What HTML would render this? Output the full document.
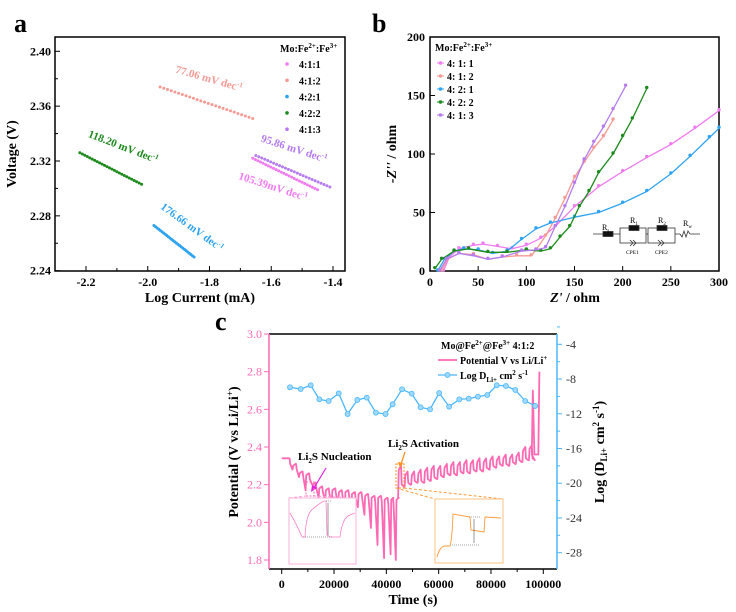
<!DOCTYPE html>
<html><head><meta charset="utf-8">
<style>
html,body{margin:0;padding:0;background:#fff;}
svg{display:block;font-family:"Liberation Serif",serif;font-weight:bold;}
</style></head>
<body>
<svg id="fig" width="736" height="612" viewBox="0 0 736 612" xmlns="http://www.w3.org/2000/svg">
<g id="pa"></g>
<g id="pb"></g>
<g id="pc"></g>
</svg>
<script>
// ---------- Panel a data ----------
const aSeries = ["4:1:1","4:1:2","4:2:1","4:2:2","4:1:3"];
const aColors = ["#f07cf0","#f59a94","#2ea3f2","#1e8a1e","#b57cf0"];
const aXStart = [-1.66,-1.96,-1.98,-2.22,-1.65];
const aXEnd   = [-1.45,-1.66,-1.85,-2.02,-1.41];
const aYStart = [2.322,2.374,2.273,2.326,2.324];
const aYEnd   = [2.299,2.351,2.250,2.303,2.301];
const aSlopes = ["105.39mV dec","77.06 mV dec","176.66 mV dec","118.20 mV dec","95.86 mV dec"];
const aXTicks = [-2.2,-2.0,-1.8,-1.6,-1.4];
const aYTicks = [2.24,2.28,2.32,2.36,2.40];
// ---------- Panel b data ----------
const bSeries = ["4: 1: 1","4: 1: 2","4: 2: 1","4: 2: 2","4: 1: 3"];
const bColors = ["#f07cf0","#f59a94","#2ea3f2","#1e8a1e","#b57cf0"];
const bX = [
 [14,20,30,45,55,70,85,100,115,130,150,175,200,225,250,275,300],
 [12,18,30,45,60,75,90,105,110,120,130,140,150,160,170,180,190],
 [8,15,25,35,50,65,80,95,110,125,150,175,200,225,250,270,290,300],
 [5,12,25,40,60,80,100,115,125,135,145,155,165,175,190,200,210,225],
 [10,17,30,45,60,75,95,110,120,130,140,150,160,170,180,190,203]
];
const bY = [
 [0,12,19,22,23,21,19,22,28,38,55,72,85,97,108,122,137],
 [0,10,15,14,10,12,13,13,18,30,45,62,80,93,105,115,129],
 [0,10,17,19,18,15,17,27,36,41,46,50,58,68,83,98,114,122],
 [2,10,17,19,16,16,18,17,19,29,38,55,68,84,100,115,130,156],
 [0,10,15,13,10,12,17,18,20,38,55,75,95,110,123,138,158]
];
const bXTicks = [0,50,100,150,200,250,300];
const bYTicks = [0,50,100,150,200];
// ---------- Panel c data ----------
const cDisT   = [3000,5500,8000,10500,13000,15500,18000,20500,23000,25500,28000,30500,33000,35500,38000,40500,42500];
const cDisTop = [2.34,2.31,2.27,2.26,2.21,2.19,2.18,2.18,2.17,2.17,2.16,2.16,2.15,2.14,2.14,2.13,2.13];
const cDisBot = [2.28,2.24,2.17,2.20,2.13,2.11,2.10,2.10,2.09,2.09,2.08,2.04,1.97,1.88,1.81,1.83,1.80];
const cChT    = [44500,47000,49500,52000,54500,57000,59500,62000,64500,67000,69500,72000,74500,77000,79500,82000,84500,87000,89500,92000,94500];
const cChPeak = [2.30,2.27,2.27,2.28,2.29,2.30,2.30,2.31,2.32,2.32,2.33,2.33,2.34,2.34,2.35,2.35,2.36,2.36,2.37,2.40,2.41];
const cChBase = [2.13,2.19,2.20,2.21,2.21,2.22,2.23,2.24,2.25,2.25,2.26,2.26,2.27,2.27,2.28,2.29,2.30,2.30,2.31,2.32,2.33];
const cEndT   = [96000,97000,98500];
const cEndV   = [2.70,2.36,2.80];
const cDT = [3170,7260,11080,14400,17950,21800,25200,28900,32500,36000,39700,42400,46000,49700,53100,56700,60200,64000,67900,71500,75000,78600,82200,85700,89300,93100,96900];
const cDV = [-8.95,-9.15,-8.72,-10.34,-10.53,-9.65,-12.03,-10.41,-10.14,-11.87,-12.03,-10.91,-9.18,-9.68,-11.26,-11.49,-9.61,-11.18,-10.34,-10.26,-10.03,-9.84,-8.72,-8.8,-9.26,-10.53,-11.1];
const cXTicks = [0,20000,40000,60000,80000,100000];
const cYTicks = [1.8,2.0,2.2,2.4,2.6,2.8,3.0];
const cY2Ticks = [-28,-24,-20,-16,-12,-8,-4];

const NS="http://www.w3.org/2000/svg";
function mk(parent,tag,attrs,text){const e=document.createElementNS(NS,tag);for(const k in attrs)e.setAttribute(k,attrs[k]);if(text!==undefined)e.textContent=text;parent.appendChild(e);return e;}
function lin(d0,d1,r0,r1){return v=>r0+(v-d0)/(d1-d0)*(r1-r0);}

// ================= Panel A =================
(function(){
const g=document.getElementById('pa');
const X=lin(-2.2,-1.4,86,333), Y=lin(2.40,2.24,51.3,270.7);
let t=mk(g,'text',{x:14,y:32,'font-size':26});t.textContent='a';


let r=mk(g,'rect',{x:55,y:37,width:290,height:234,fill:'none',stroke:'#000','stroke-width':1.5});


aXTicks.forEach(v=>{const x=X(v);mk(g,'line',{x1:x,x2:x,y1:271,y2:266,stroke:'#000'});
 const l=mk(g,'text',{x:x,y:286,'font-size':12,'text-anchor':'middle'},v.toFixed(1));
 
 });
aXTicks.slice(0,-1).forEach(v=>{const x=X(v+0.1);mk(g,'line',{x1:x,x2:x,y1:271,y2:268,stroke:'#000'});});
aYTicks.forEach(v=>{const y=Y(v);mk(g,'line',{x1:55,x2:60,y1:y,y2:y,stroke:'#000'});
 const l=mk(g,'text',{x:51,y:y+4,'font-size':12,'text-anchor':'end'},v.toFixed(2));
 
 });
aYTicks.slice(0,-1).forEach(v=>{const y=Y(v+0.02);mk(g,'line',{x1:55,x2:58,y1:y,y2:y,stroke:'#000'});});
let xl=mk(g,'text',{x:200,y:302,'font-size':14,'text-anchor':'middle'},'Log Current (mA)');


let yl=mk(g,'text',{x:0,y:0,'font-size':14,'text-anchor':'middle',transform:'translate(16,154) rotate(-90)'},'Voltage (V)');


const labelPos=[[272,190,18],[208,82,16],[190,230,36],[122,150,21],[293,152,18]];
aSeries.forEach((s,i)=>{
 const sg=mk(g,'g',{});
 
 
 const n=26;
 for(let k=0;k<n;k++){const f=k/(n-1);
  const xv=aXStart[i]+(aXEnd[i]-aXStart[i])*f, yv=aYStart[i]+(aYEnd[i]-aYStart[i])*f;
  const c=mk(sg,'circle',{cx:X(xv),cy:Y(yv),r:1.5,fill:aColors[i]});
  
  }
 const p=labelPos[i];
 const lt=mk(g,'text',{x:p[0],y:p[1],'font-size':11,fill:aColors[i],'text-anchor':'middle',transform:`rotate(${p[2]} ${p[0]} ${p[1]})`});
 lt.textContent=aSlopes[i];
 mk(lt,'tspan',{dy:-4,'font-size':7},'-1');
 
 
});
const lg=mk(g,'g',{});


const tt=mk(lg,'text',{x:280,y:52,'font-size':10});tt.textContent='Mo:Fe';mk(tt,'tspan',{dy:-4,'font-size':7},'2+');mk(tt,'tspan',{dy:4},':Fe');mk(tt,'tspan',{dy:-4,'font-size':7},'3+');
aSeries.forEach((s,i)=>{const y=64+i*16.3;
 const e=mk(lg,'g',{});
 
 
 mk(e,'circle',{cx:287,cy:y,r:1.8,fill:aColors[i]});
 mk(e,'text',{x:299,y:y+4,'font-size':10},s);});
})();

// ================= Panel B =================
(function(){
const g=document.getElementById('pb');
const X=lin(0,300,430,719), Y=lin(0,200,271,37);
let t=mk(g,'text',{x:372,y:32,'font-size':26},'b');


let r=mk(g,'rect',{x:430,y:37,width:289,height:234,fill:'none',stroke:'#000','stroke-width':1.5});


bXTicks.forEach(v=>{const x=X(v);mk(g,'line',{x1:x,x2:x,y1:271,y2:266,stroke:'#000'});
 const l=mk(g,'text',{x:x,y:286,'font-size':12,'text-anchor':'middle'},String(v));
 
 });
bYTicks.forEach(v=>{const y=Y(v);mk(g,'line',{x1:430,x2:435,y1:y,y2:y,stroke:'#000'});
 const l=mk(g,'text',{x:425,y:y+4,'font-size':12,'text-anchor':'end'},String(v));
 
 });
let xl=mk(g,'text',{x:575,y:302,'font-size':14,'text-anchor':'middle'});
mk(xl,'tspan',{'font-style':'italic'},"Z'");mk(xl,'tspan',{},' / ohm');


let yl=mk(g,'text',{x:0,y:0,'font-size':14,'text-anchor':'middle',transform:'translate(396,154) rotate(-90)'});
mk(yl,'tspan',{'font-style':'italic'},"-Z''");mk(yl,'tspan',{},' / ohm');


bSeries.forEach((s,i)=>{
 const sg=mk(g,'g',{});
 
 
 const pts=bX[i].map((x,k)=>X(x).toFixed(1)+','+Y(bY[i][k]).toFixed(1)).join(' ');
 const pl=mk(sg,'polyline',{points:pts,fill:'none',stroke:bColors[i],'stroke-width':1.3,'stroke-linejoin':'round'});
 
 
 bX[i].forEach((x,k)=>{const c=mk(sg,'circle',{cx:X(x),cy:Y(bY[i][k])-1,r:1.7,fill:bColors[i]});
  
  });
});
const lg=mk(g,'g',{});


const tt=mk(lg,'text',{x:435,y:51,'font-size':10});tt.textContent='Mo:Fe';mk(tt,'tspan',{dy:-4,'font-size':7},'2+');mk(tt,'tspan',{dy:4},':Fe');mk(tt,'tspan',{dy:-4,'font-size':7},'3+');
bSeries.forEach((s,i)=>{const y=63+i*13;
 const e=mk(lg,'g',{});
 
 
 mk(e,'line',{x1:437,x2:444,y1:y,y2:y,stroke:bColors[i],'stroke-width':1});
 mk(e,'circle',{cx:440.5,cy:y,r:1.8,fill:bColors[i]});
 mk(e,'text',{x:447,y:y+4,'font-size':10},s);});
// circuit
const cg=mk(g,'g',{stroke:'#333','stroke-width':0.8,fill:'none'});


mk(cg,'path',{d:'M593 234 H620 M646 234 H648 M675 234 H680 M690 234 H700'});
mk(cg,'rect',{x:603,y:231.5,width:10,height:5,fill:'#111'});
mk(cg,'rect',{x:620,y:228,width:26,height:15});
mk(cg,'rect',{x:629,y:225.5,width:10,height:5,fill:'#111'});
mk(cg,'rect',{x:648,y:228,width:27,height:15});
mk(cg,'rect',{x:657,y:225.5,width:10,height:5,fill:'#111'});
mk(cg,'path',{d:'M630 240 l3 3 l-3 3 M633 240 l3 3 l-3 3 M658 240 l3 3 l-3 3 M661 240 l3 3 l-3 3'});
mk(cg,'path',{d:'M680 234 l2 3 l2 -6 l2 6 l2 -6 l2 3'});
const lbl=[["R",602,230,"s"],["R",630,223,"1"],["R",658,223,"2"],["R",683,226,"w"]];
lbl.forEach(l=>{const tx=mk(g,'text',{x:l[1],y:l[2],'font-size':8,'font-weight':'normal'},l[0]);mk(tx,'tspan',{dy:2,'font-size':5},l[3]);});
mk(g,'text',{x:626,y:254,'font-size':5.5,'font-weight':'normal'},'CPE1');
mk(g,'text',{x:655,y:254,'font-size':5.5,'font-weight':'normal'},'CPE2');
})();

// ================= Panel C =================
(function(){
const g=document.getElementById('pc');
const X=lin(0,100000,281.7,543.3), Y=lin(1.8,3.0,560,334), Y2=lin(-4,-28,344.3,552.7);
const pink='#ff69b4', blue='#4db8ff';
let t=mk(g,'text',{x:215,y:330,'font-size':26},'c');


mk(g,'line',{x1:269,x2:557,y1:334,y2:334,stroke:'#000','stroke-width':1.5});
mk(g,'line',{x1:269,x2:557,y1:569,y2:569,stroke:'#000','stroke-width':1.5});
mk(g,'line',{x1:269,x2:269,y1:334,y2:569,stroke:pink,'stroke-width':1.5});
mk(g,'line',{x1:557,x2:557,y1:334,y2:569,stroke:blue,'stroke-width':1.5});
cXTicks.forEach(v=>{const x=X(v);mk(g,'line',{x1:x,x2:x,y1:569,y2:574,stroke:'#000'});
 const l=mk(g,'text',{x:x,y:588,'font-size':12,'text-anchor':'middle'},String(v));
 
 });
cXTicks.slice(0,-1).forEach(v=>{const x=X(v+10000);mk(g,'line',{x1:x,x2:x,y1:569,y2:572,stroke:'#000'});});
cYTicks.forEach(v=>{const y=Y(v);mk(g,'line',{x1:269,x2:264,y1:y,y2:y,stroke:pink});
 const l=mk(g,'text',{x:262,y:y+4,'font-size':12,'text-anchor':'end',fill:pink,'font-weight':'normal'},v.toFixed(1));
 
 });
cY2Ticks.forEach(v=>{const y=Y2(v);mk(g,'line',{x1:557,x2:562,y1:y,y2:y,stroke:blue});
 mk(g,'line',{x1:557,x2:560,y1:Y2(v+2),y2:Y2(v+2),stroke:blue});
 const l=mk(g,'text',{x:566,y:y+4,'font-size':12,fill:'#333','font-weight':'normal'},String(v));
 
 });
let xl=mk(g,'text',{x:413,y:604,'font-size':14,'text-anchor':'middle'},'Time (s)');


let yl=mk(g,'text',{x:0,y:0,'font-size':14,'text-anchor':'middle',transform:'translate(238,452) rotate(-90)'});
yl.textContent='Potential (V vs Li/Li';mk(yl,'tspan',{dy:-5,'font-size':9},'+');mk(yl,'tspan',{dy:5},')');


let y2=mk(g,'text',{x:0,y:0,'font-size':14,'text-anchor':'middle',transform:'translate(604,452) rotate(-90)'});
y2.textContent='Log (D';mk(y2,'tspan',{dy:3,'font-size':9},'Li+');mk(y2,'tspan',{dy:-3},' cm');mk(y2,'tspan',{dy:-5,'font-size':9},'2');mk(y2,'tspan',{dy:5},' s');mk(y2,'tspan',{dy:-5,'font-size':9},'-1');mk(y2,'tspan',{dy:5},')');


// potential path
const P=2500;let d=`M${X(0)} ${Y(cDisTop[0])}`;
cDisT.forEach((t0,i)=>{const nextTop=i+1<cDisTop.length?cDisTop[i+1]:cChBase[0];
 d+=` L${X(t0)} ${Y(cDisTop[i])} L${X(t0+0.1*P)} ${Y(cDisTop[i]-0.03)} L${X(t0+0.45*P)} ${Y(cDisBot[i])} L${X(t0+0.55*P)} ${Y(nextTop-0.01)} L${X(t0+0.9*P)} ${Y(nextTop)}`;});
cChT.forEach((t0,i)=>{const nb=i+1<cChBase.length?cChBase[i+1]:cChBase[i];
 d+=` L${X(t0)} ${Y(cChBase[i])} L${X(t0+0.1*P)} ${Y(cChPeak[i]-0.02)} L${X(t0+0.45*P)} ${Y(cChPeak[i])} L${X(t0+0.55*P)} ${Y(nb+0.01)} L${X(t0+0.9*P)} ${Y(nb)}`;});
cEndT.forEach((t0,i)=>{d+=` L${X(t0-400)} ${Y(2.36)} L${X(t0)} ${Y(cEndV[i])}`;});
const pp=mk(g,'path',{d:d,fill:'none',stroke:pink,'stroke-width':1.8,'stroke-linejoin':'round'});


// log D series
const dg=mk(g,'g',{});


mk(dg,'polyline',{points:cDT.map((t,i)=>X(t)+','+Y2(cDV[i])).join(' '),fill:'none',stroke:blue,'stroke-width':1.3});
cDT.forEach((t,i)=>{const c=mk(dg,'circle',{cx:X(t),cy:Y2(cDV[i]),r:2.5,fill:'#9fd8ff',stroke:blue,'stroke-width':0.8});
 
 });
// annotations
const a1=mk(g,'text',{x:298,y:460,'font-size':11});a1.textContent='Li';mk(a1,'tspan',{dy:3,'font-size':7},'2');mk(a1,'tspan',{dy:-3},'S Nucleation');


mk(g,'path',{d:'M326 468 L314 488',stroke:'#e020e0','stroke-width':1.2,fill:'none'});
mk(g,'path',{d:'M311 492 l1 -7 l5 3 z',fill:'#e020e0'});
const a2=mk(g,'text',{x:388,y:447,'font-size':11});a2.textContent='Li';mk(a2,'tspan',{dy:3,'font-size':7},'2');mk(a2,'tspan',{dy:-3},'S Activation');


mk(g,'path',{d:'M405 452 L401 464',stroke:'#ff8c1a','stroke-width':1.2,fill:'none'});
mk(g,'path',{d:'M400 468 l-2 -6 l5 1 z',fill:'#ff8c1a'});
mk(g,'rect',{x:396,y:464,width:8,height:24,fill:'none',stroke:'#ff8c1a','stroke-width':1,'stroke-dasharray':'2 1.5'});
mk(g,'rect',{x:306,y:482,width:8,height:14,fill:'none',stroke:'#ff69b4','stroke-width':1,'stroke-dasharray':'2 1.5'});
// insets
const i1=mk(g,'g',{});


mk(i1,'path',{d:'M289 498 L306 496 M356 498 L314 496',stroke:'#ff9ad5','stroke-dasharray':'3 2',fill:'none'});
mk(i1,'rect',{x:289,y:498,width:67,height:66,fill:'#fff',stroke:'#ffb0dc'});
mk(i1,'path',{d:'M290 513 Q297 525 302 537 L305 537 Q306 512 314 508 Q320 503 324 501 L326 501 L327 535 L330 537 L340 537 Q342 520 348 516 Q352 514 355 513',fill:'none',stroke:'#ff80c8','stroke-width':0.8});
mk(i1,'path',{d:'M303 537 H333 M326 501 H332',stroke:'#555','stroke-width':0.5,'stroke-dasharray':'1 1'});
mk(i1,'path',{d:'M328 503 V535',stroke:'#333','stroke-width':0.5});
const i2=mk(g,'g',{});


mk(i2,'path',{d:'M396 488 L435 499 M404 488 L503 499',stroke:'#ff9b3a','stroke-dasharray':'3 2',fill:'none'});
mk(i2,'rect',{x:435,y:499,width:68,height:64,fill:'#fff',stroke:'#ffc080'});
mk(i2,'path',{d:'M437 557 Q440 546 445 546 L450 546 Q452 540 453 514 L470 517 L471 530 L484 532 L485 517 L501 518',fill:'none',stroke:'#ff9b3a','stroke-width':0.9});
mk(i2,'path',{d:'M452 545 H480 M469 517 H480',stroke:'#555','stroke-width':0.5,'stroke-dasharray':'1 1'});
mk(i2,'path',{d:'M474 519 V543',stroke:'#333','stroke-width':0.5});
// legend
const lg=mk(g,'g',{});


const t1=mk(lg,'text',{x:441,y:349,'font-size':10});t1.textContent='Mo@Fe';mk(t1,'tspan',{dy:-4,'font-size':7},'2+');mk(t1,'tspan',{dy:4},'@Fe');mk(t1,'tspan',{dy:-4,'font-size':7},'3+');mk(t1,'tspan',{dy:4},' 4:1:2');
mk(lg,'line',{x1:438,x2:457,y1:360,y2:360,stroke:pink,'stroke-width':1.8});
const t2=mk(lg,'text',{x:460,y:364,'font-size':10});t2.textContent='Potential V vs Li/Li';mk(t2,'tspan',{dy:-4,'font-size':7},'+');
mk(lg,'line',{x1:438,x2:457,y1:375,y2:375,stroke:blue,'stroke-width':1.3});
mk(lg,'circle',{cx:447.5,cy:375,r:2.5,fill:'#9fd8ff',stroke:blue,'stroke-width':0.8});
const t3=mk(lg,'text',{x:460,y:379,'font-size':10});t3.textContent='Log D';mk(t3,'tspan',{dy:3,'font-size':7},'Li+');mk(t3,'tspan',{dy:-3},' cm');mk(t3,'tspan',{dy:-4,'font-size':7},'2');mk(t3,'tspan',{dy:4},' s');mk(t3,'tspan',{dy:-4,'font-size':7},'-1');
})();
</script>
</body></html>
